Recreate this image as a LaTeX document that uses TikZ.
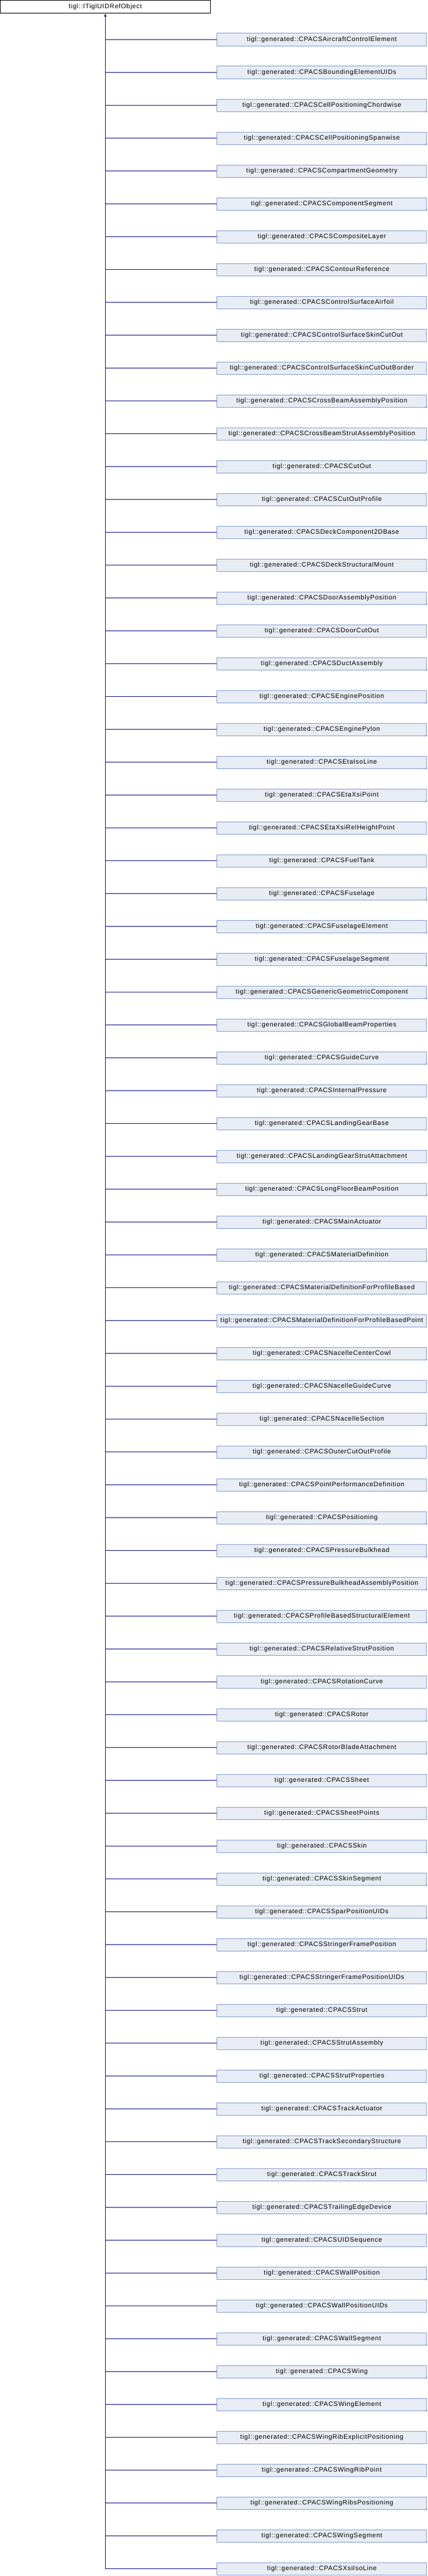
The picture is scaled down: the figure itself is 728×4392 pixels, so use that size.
\documentclass[tikz,border=0pt]{standalone}
\usepackage{fontspec}
\setmainfont{Liberation Sans}
\newfontfamily\diafont[LetterSpace=6.7]{Liberation Sans}
\usetikzlibrary{arrows.meta}
\definecolor{linkblue}{RGB}{17,17,140}
\definecolor{boxfill}{RGB}{232,236,244}
\definecolor{boxline}{RGB}{132,156,206}
\begin{document}
\begin{tikzpicture}[x=1pt,y=1pt,
  labelfont/.style={font=\diafont\fontsize{11}{13}\selectfont, text=black},
  classbox/.style={labelfont, draw=boxline, fill=boxfill, line width=1pt,
    minimum width=357.3pt, minimum height=21.8pt, inner sep=0pt},
  basebox/.style={labelfont, draw=black, fill=white, line width=1pt,
    minimum width=357.7pt, minimum height=22.3pt, inner sep=0pt},
  inherit/.style={draw=linkblue, line width=1pt},
  foldmark/.style={fill=boxline}]
\useasboundingbox (0,0) rectangle (728,-4392);
\node[basebox] (base) at (179.35,-11.65) {tigl::ITiglUIDRefObject};
\foreach \nm/\fl [count=\k] in {
  AircraftControlElement/0, BoundingElementUIDs/0, CellPositioningChordwise/1,
  CellPositioningSpanwise/1, CompartmentGeometry/0, ComponentSegment/1,
  CompositeLayer/0, ContourReference/0, ControlSurfaceAirfoil/0,
  ControlSurfaceSkinCutOut/0, ControlSurfaceSkinCutOutBorder/0,
  CrossBeamAssemblyPosition/1, CrossBeamStrutAssemblyPosition/1, CutOut/0,
  CutOutProfile/0, DeckComponent2DBase/0, DeckStructuralMount/0,
  DoorAssemblyPosition/1, DoorCutOut/0, DuctAssembly/1, EnginePosition/1,
  EnginePylon/1, EtaIsoLine/1, EtaXsiPoint/1, EtaXsiRelHeightPoint/0,
  FuelTank/0, Fuselage/1, FuselageElement/1, FuselageSegment/1,
  GenericGeometricComponent/1, GlobalBeamProperties/0, GuideCurve/1,
  InternalPressure/0, LandingGearBase/0, LandingGearStrutAttachment/0,
  LongFloorBeamPosition/1, MainActuator/0, MaterialDefinition/1,
  MaterialDefinitionForProfileBased/0, MaterialDefinitionForProfileBasedPoint/0,
  NacelleCenterCowl/1, NacelleGuideCurve/0, NacelleSection/1,
  OuterCutOutProfile/0, PointPerformanceDefinition/0, Positioning/1,
  PressureBulkhead/1, PressureBulkheadAssemblyPosition/1,
  ProfileBasedStructuralElement/1, RelativeStrutPosition/0, RotationCurve/0,
  Rotor/1, RotorBladeAttachment/1, Sheet/0, SheetPoints/0, Skin/1,
  SkinSegment/1, SparPositionUIDs/1, StringerFramePosition/1,
  StringerFramePositionUIDs/0, Strut/0, StrutAssembly/0, StrutProperties/0,
  TrackActuator/0, TrackSecondaryStructure/0, TrackStrut/0,
  TrailingEdgeDevice/1, UIDSequence/0, WallPosition/1, WallPositionUIDs/0,
  WallSegment/1, Wing/1, WingElement/1, WingRibExplicitPositioning/0,
  WingRibPoint/0, WingRibsPositioning/1, WingSegment/1, XsiIsoLine/0} {
  \node[classbox] (c\k) at (548.15,{-67.9-56*(\k-1)}) {tigl::generated::CPACS\nm};
  \ifnum\fl=1
    \fill[foldmark] ([xshift=-4pt]c\k.south east) -- (c\k.south east) -- ([yshift=4pt]c\k.south east) -- cycle;
  \fi
  \draw[inherit] (base.south |- c\k.west) -- (c\k.west);
}
\draw[inherit, -{Triangle[width=4pt,length=5pt]}] (base.south |- c78.west) -- (base.south);
\end{tikzpicture}
\end{document}
